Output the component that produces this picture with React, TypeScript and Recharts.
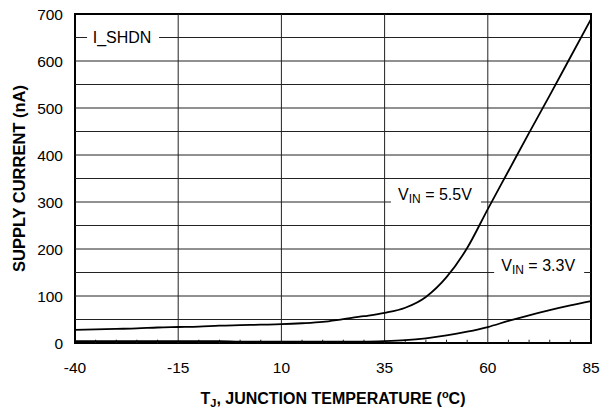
import { LineChart, Line, XAxis, YAxis, ReferenceLine, ReferenceArea, ReferenceDot } from "recharts";

// junction temperature (°C), sampled every 5 degrees
const temps = [-40, -35, -30, -25, -20, -15, -10, -5, 0, 5, 10, 15, 20, 25, 30, 35, 40, 45, 50, 55, 60, 65, 70, 75, 80, 85];
// shutdown supply current (nA)
const vin55 = [28, 29, 30, 31, 33, 34, 35, 37, 38, 39, 40, 42, 45, 51, 57, 64, 75, 98, 140, 202, 285, 366, 447, 527, 608, 689];
const vin33 = [4, 4, 4, 4, 4, 4, 4, 4, 3, 3, 3, 3, 3, 3, 3, 4, 6, 10, 16, 24, 34, 47, 59, 70, 80, 89];

const xTicks = [-40, -15, 10, 35, 60, 85];
const yTicks = [0, 100, 200, 300, 400, 500, 600, 700];
const xGrid = [-15, 10, 35, 60];
const yGrid = [50, 100, 150, 200, 250, 300, 350, 400, 450, 500, 550, 600, 650];
const minorTicks = [-35, -30, -25, -20, -10, -5, 0, 5, 15, 20, 25, 30, 40, 45, 50, 55, 65, 70, 75, 80];

const data = temps.map((t, i) => ({ t, v55: vin55[i], v33: vin33[i] }));

const FONT = "Arial, 'Liberation Sans', Helvetica, sans-serif";
const INK = "#000";

function BoxLabel({ viewBox, main, sub, rest, w, dy }: any) {
  const cx = viewBox.x;
  const cy = viewBox.y;
  return (
    <g>
      <rect x={cx - w / 2 - 5} y={cy - 8} width={w + 12} height={16} fill="#fff" />
      <text x={cx} y={cy + dy} textAnchor="middle" fontSize={16} fontFamily={FONT} fill={INK}>
        {main}
        {sub ? (
          <>
            <tspan fontSize={12} dy={3}>{sub}</tspan>
            <tspan dy={-3}>{rest}</tspan>
          </>
        ) : null}
      </text>
    </g>
  );
}

function XTitle({ viewBox }: any) {
  const cx = viewBox.x + viewBox.width / 2;
  const y = viewBox.y + 61;
  return (
    <text x={cx} y={y} textAnchor="middle" fontSize={16} fontWeight="bold" fontFamily={FONT} fill={INK}>
      T<tspan fontSize={11} dy={3}>J</tspan>
      <tspan dy={-3}>, JUNCTION TEMPERATURE (</tspan>
      <tspan fontSize={11} dy={-6}>o</tspan>
      <tspan dy={6}>C)</tspan>
    </text>
  );
}

function YTitle({ viewBox }: any) {
  const x = 25;
  const y = viewBox.y + viewBox.height / 2;
  return (
    <text x={x} y={y} transform={`rotate(-90, ${x}, ${y})`} textAnchor="middle" fontSize={16.5} fontWeight="bold" fontFamily={FONT} fill={INK}>
      SUPPLY CURRENT (nA)
    </text>
  );
}

export default function App() {
  return (
    <div style={{ position: "absolute", left: 0, top: 0, width: 602, height: 413, background: "#fff" }}>
      <LineChart width={602} height={413} data={data} margin={{ top: 14, right: 11, left: 0, bottom: 0 }}>
        <XAxis
          dataKey="t"
          type="number"
          domain={[-40, 85]}
          ticks={xTicks}
          interval={0}
          axisLine={false}
          tickLine={false}
          tickSize={0}
          tickMargin={19}
          height={70}
          tick={{ fill: INK, fontSize: 15.5, fontFamily: FONT }}
          label={{ content: (p: any) => <XTitle {...p} /> }}
        />
        <YAxis
          type="number"
          domain={[0, 700]}
          ticks={yTicks}
          interval={0}
          axisLine={false}
          tickLine={false}
          tickSize={0}
          tickMargin={12}
          width={75}
          tick={{ fill: INK, fontSize: 15.5, fontFamily: FONT }}
          label={{ content: (p: any) => <YTitle {...p} /> }}
        />
        {yGrid.map((v) => (
          <ReferenceLine key={`gy${v}`} y={v} stroke="#222" strokeWidth={1} />
        ))}
        {xGrid.map((v) => (
          <ReferenceLine key={`gx${v}`} x={v} stroke="#222" strokeWidth={1} />
        ))}
        {minorTicks.map((v) => (
          <ReferenceLine key={`mt${v}`} segment={[{ x: v, y: 0 }, { x: v, y: 7 }]} stroke="#222" strokeWidth={1} />
        ))}
        <ReferenceArea x1={-40} x2={85} y1={0} y2={700} fill="none" stroke={INK} strokeWidth={2} />
        <Line type="monotone" dataKey="v55" stroke={INK} strokeWidth={1.8} dot={false} isAnimationActive={false} />
        <Line type="monotone" dataKey="v33" stroke={INK} strokeWidth={1.8} dot={false} isAnimationActive={false} />
        <ReferenceDot
          x={-28.6}
          y={650}
          r={0}
          fill="none"
          stroke="none"
          label={{ content: (p: any) => <BoxLabel {...p} main="I_SHDN" w={60} dy={5.5} /> }}
        />
        <ReferenceDot
          x={47.2}
          y={300}
          r={0}
          fill="none"
          stroke="none"
          label={{ content: (p: any) => <BoxLabel {...p} main="V" sub="IN" rest=" = 5.5V" w={78} dy={-2} /> }}
        />
        <ReferenceDot
          x={72.2}
          y={150}
          r={0}
          fill="none"
          stroke="none"
          label={{ content: (p: any) => <BoxLabel {...p} main="V" sub="IN" rest=" = 3.3V" w={78} dy={-2} /> }}
        />
      </LineChart>
    </div>
  );
}
